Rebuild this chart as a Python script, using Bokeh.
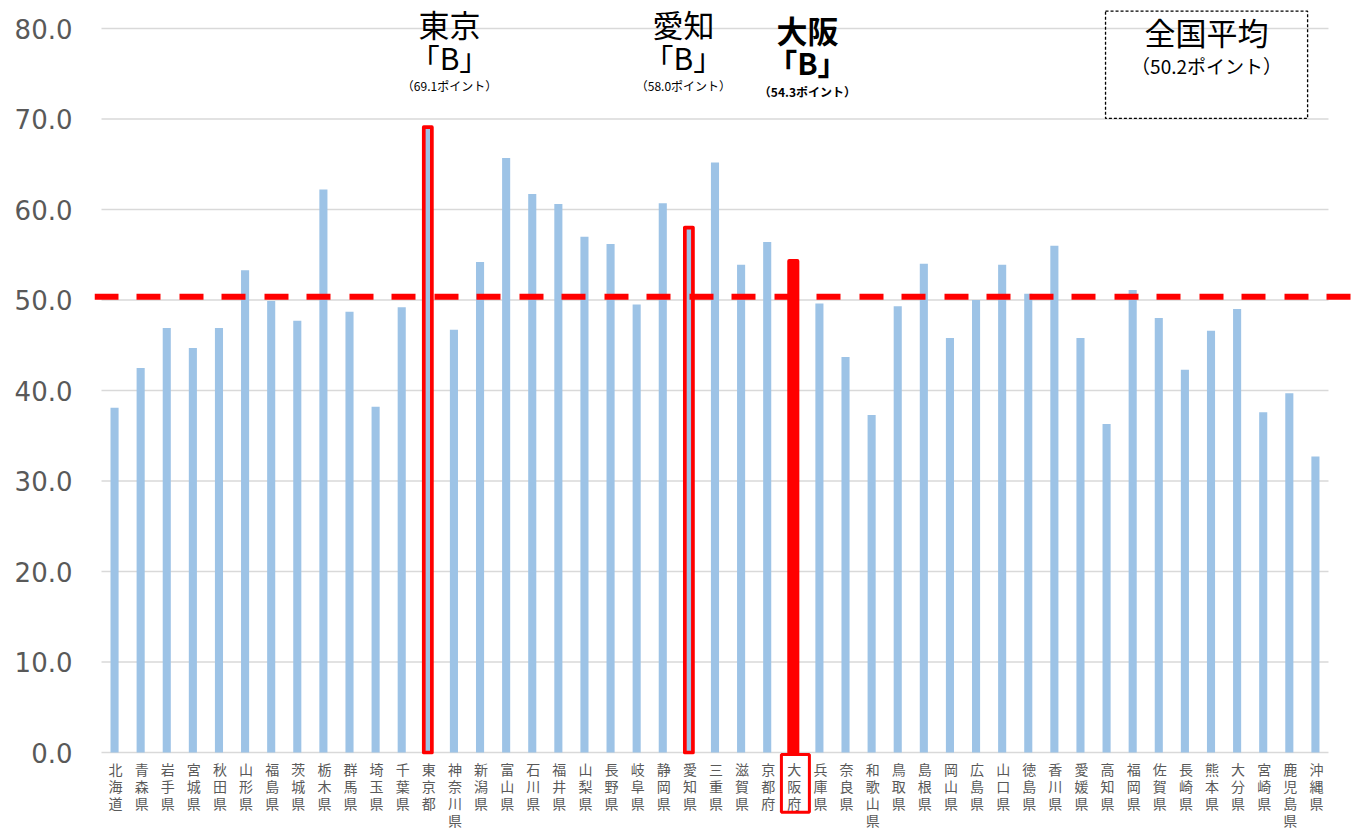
from bokeh.plotting import figure
from bokeh.models import (ColumnDataSource, Range1d, FixedTicker, NumeralTickFormatter,
                          Span, Label, BoxAnnotation)
from bokeh.core.properties import value
from bokeh.embed import file_html
from bokeh.resources import INLINE

# ---------------- data ----------------
prefectures = ["北海道", "青森県", "岩手県", "宮城県", "秋田県", "山形県", "福島県", "茨城県",
               "栃木県", "群馬県", "埼玉県", "千葉県", "東京都", "神奈川県", "新潟県", "富山県",
               "石川県", "福井県", "山梨県", "長野県", "岐阜県", "静岡県", "愛知県", "三重県",
               "滋賀県", "京都府", "大阪府", "兵庫県", "奈良県", "和歌山県", "鳥取県", "島根県",
               "岡山県", "広島県", "山口県", "徳島県", "香川県", "愛媛県", "高知県", "福岡県",
               "佐賀県", "長崎県", "熊本県", "大分県", "宮崎県", "鹿児島県", "沖縄県"]
scores = [38.1, 42.5, 46.9, 44.7, 46.9, 53.3, 49.9, 47.7,
          62.2, 48.7, 38.2, 49.2, 69.1, 46.7, 54.2, 65.7,
          61.7, 60.6, 57.0, 56.2, 49.5, 60.7, 58.0, 65.2,
          53.9, 56.4, 54.3, 49.6, 43.7, 37.3, 49.3, 54.0,
          45.8, 50.0, 53.9, 50.7, 56.0, 45.8, 36.3, 51.1,
          48.0, 42.3, 46.6, 49.0, 37.6, 39.7, 32.7]
y_ticks = [0, 10, 20, 30, 40, 50, 60, 70, 80]
national_avg_label = 50.2
national_avg_line = 50.35

outlined = ["東京都", "愛知県"]
highlighted = "大阪府"
annot_prefs = ["東京都", "愛知県", "大阪府"]
annot_names = ["東京", "愛知", "大阪"]
annot_grades = ["「B」", "「B」", "「B」"]
annot_points = [69.1, 58.0, 54.3]

# ---------------- figure ----------------
n = len(prefectures)
BLUE = "#9DC3E6"
RED = "#FF0000"
GRID = "#D9D9D9"
GREY_TXT = "#595959"
JP = "Noto Sans CJK JP"

p = figure(width=1352, height=829, output_backend="svg", toolbar_location=None,
           x_range=Range1d(-0.768, 47.42), y_range=Range1d(-8.508, 83.094),
           min_border_left=94, min_border_right=0, min_border_top=0, min_border_bottom=0)
p.outline_line_color = None
p.xaxis.visible = False
p.xgrid.visible = False
p.ygrid.visible = False
p.background_fill_color = "white"
p.border_fill_color = "white"

yax = p.yaxis[0]
yax.ticker = FixedTicker(ticks=y_ticks)
yax.formatter = NumeralTickFormatter(format="0.0")
yax.axis_line_color = None
yax.major_tick_line_color = None
yax.minor_tick_line_color = None
yax.major_tick_out = 0
yax.major_tick_in = 0
yax.major_label_standoff = 22
yax.major_label_text_font = "DejaVu Sans"
yax.major_label_text_font_size = "26px"
yax.major_label_text_color = GREY_TXT

# gridlines (span only the category area), incl. axis line at 0
p.segment(x0=[-0.5] * len(y_ticks), x1=[n - 0.5] * len(y_ticks), y0=y_ticks, y1=y_ticks,
          line_color=GRID, line_width=1.6)

xs = list(range(n))
normal = [i for i in xs if prefectures[i] not in outlined and prefectures[i] != highlighted]
out_idx = [i for i in xs if prefectures[i] in outlined]
hi_idx = [i for i in xs if prefectures[i] == highlighted]

src_n = ColumnDataSource(dict(x=normal, top=[scores[i] for i in normal]))
src_o = ColumnDataSource(dict(x=out_idx, top=[scores[i] for i in out_idx]))
src_h = ColumnDataSource(dict(x=hi_idx, top=[scores[i] for i in hi_idx]))

BAR_W = 0.31
p.vbar(x="x", top="top", bottom=0, width=BAR_W, source=src_n, fill_color=BLUE, line_color=None)
p.vbar(x="x", top="top", bottom=0, width=BAR_W, source=src_o, fill_color=BLUE,
       line_color=RED, line_width=3.7, line_join="round")
p.vbar(x="x", top="top", bottom=0, width=BAR_W, source=src_h, fill_color=RED,
       line_color=RED, line_width=4, line_join="round")

# national average dashed line
p.add_layout(Span(location=national_avg_line, dimension="width", line_color=RED,
                  line_width=6, line_dash="24 18 24 19"))

# vertical category labels (characters stacked top to bottom)
lab_src = ColumnDataSource(dict(x=xs, y=[0] * n, t=["\n".join(list(s)) for s in prefectures]))
p.text(x="x", y="y", text="t", source=lab_src, text_align="center", text_baseline="top",
       y_offset=6, x_offset=1, text_font=value(JP), text_font_size="14px",
       text_color=GREY_TXT, text_line_height=0.85)

# red box around Osaka's label
hi = hi_idx[0]
p.add_layout(BoxAnnotation(left=hi + 0.08 - 0.536, right=hi + 0.08 + 0.536, top=-0.22, bottom=-6.6,
                           fill_alpha=0, line_color=RED, line_alpha=1, line_width=3))

# annotations for Tokyo / Aichi / Osaka
x_shift = {"東京都": 0.83, "愛知県": -0.21, "大阪府": 0.54}
for pref, name, grade, pts in zip(annot_prefs, annot_names, annot_grades, annot_points):
    i = prefectures.index(pref)
    bold = pref == highlighted
    style = "bold" if bold else "normal"
    xx = i + x_shift[pref]
    ys = (79.93, 76.25, 73.04) if bold else (80.55, 76.85, 73.70)
    p.add_layout(Label(x=xx, y=ys[0], text=name, text_align="center", text_baseline="middle",
                       text_font=JP, text_font_size="31px",
                       text_font_style=style, text_color="black"))
    p.add_layout(Label(x=xx, y=ys[1], text=grade, text_align="center", text_baseline="middle",
                       text_font=JP, text_font_size="30px",
                       text_font_style=style, text_color="black"))
    p.add_layout(Label(x=xx, y=ys[2], text="（%.1fポイント）" % pts, text_align="center",
                       text_baseline="middle", text_font=JP, text_font_size="12px",
                       text_font_style=style, text_color="black"))

# national average box
p.add_layout(BoxAnnotation(left=37.96, right=45.70, top=81.91, bottom=70.06, fill_alpha=0,
                           line_color="black", line_alpha=1, line_width=1.3, line_dash="3 2"))
p.add_layout(Label(x=41.83, y=79.65, text="全国平均", text_align="center", text_baseline="middle",
                   text_font=JP, text_font_size="31px", text_color="black"))
p.add_layout(Label(x=41.83, y=75.91, text="（%.1fポイント）" % national_avg_label, text_align="center",
                   text_baseline="middle", text_font=JP, text_font_size="19px", text_color="black"))

open("out.html", "w").write(file_html(p, INLINE))
